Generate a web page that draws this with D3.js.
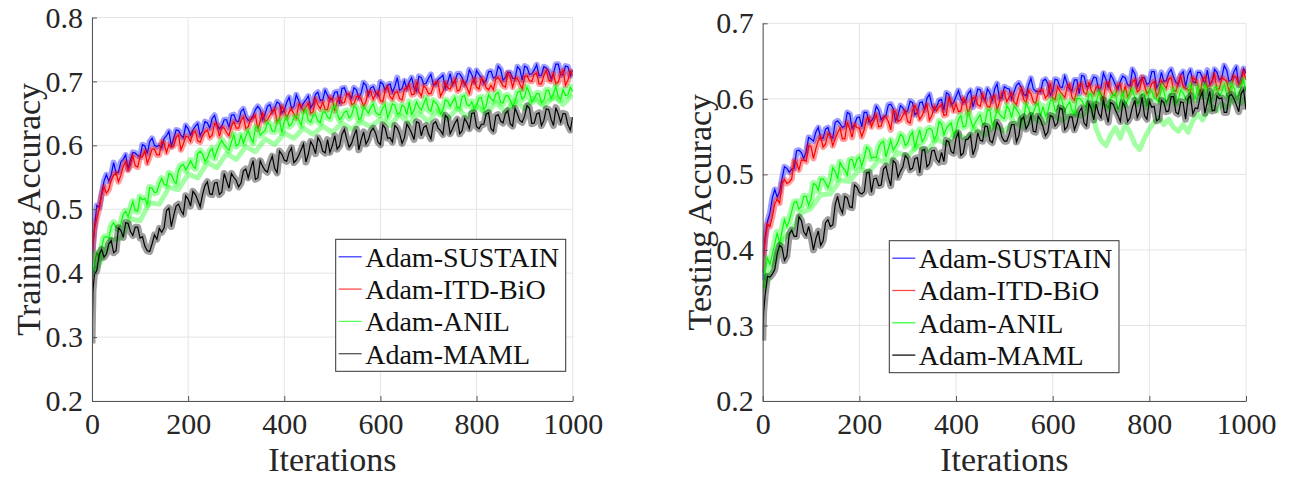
<!DOCTYPE html>
<html lang="en">
<head>
<meta charset="utf-8">
<title>Adam variants: training and testing accuracy</title>
<script src="https://d3js.org/d3.v7.min.js"></script>
<style>
    body { margin: 0; background: #fff; }
    svg text { font-family: 'Liberation Serif', 'Times New Roman', serif; fill: #262626; }
    .axis-label { font-size: 34px; }
    .legend-text { font-size: 28px; fill: #111; }
    .grid line { stroke: #e4e4e4; stroke-width: 1; }
    .axis path, .axis line { stroke: #555; }
</style>
</head>
<body>
<svg id="chart" width="1289" height="478"></svg>
<script>
// logged iterations: 0, 2, 5, then every 5
const iters = [0, 2, 5].concat(d3.range(10, 1001, 5));
const seriesNames = ["Adam-SUSTAIN", "Adam-ITD-BiO", "Adam-ANIL", "Adam-MAML"];
const xTicks = [0, 200, 400, 600, 800, 1000];
const trainTicks = [0.2, 0.3, 0.4, 0.5, 0.6, 0.7, 0.8];
const testTicks = [0.2, 0.3, 0.4, 0.5, 0.6, 0.7];

// ---- training accuracy (left) ----
const trainSustain = [0.400,0.440,0.470,
  0.506,0.503,0.524,0.544,0.554,0.544,0.554,0.573,0.557,0.558,0.574,0.578,0.585,0.563,0.577,0.589,0.588,0.584,0.582,0.601,
  0.599,0.587,0.606,0.611,0.600,0.598,0.600,0.596,0.611,0.615,0.622,0.599,0.611,0.624,0.623,0.616,0.612,0.631,0.626,0.616,
  0.624,0.630,0.634,0.615,0.623,0.637,0.635,0.627,0.642,0.647,0.632,0.626,0.630,0.640,0.640,0.628,0.647,0.648,0.638,0.637,
  0.653,0.657,0.645,0.639,0.640,0.646,0.656,0.661,0.656,0.640,0.649,0.661,0.664,0.652,0.658,0.668,0.665,0.651,0.655,0.667,
  0.675,0.658,0.661,0.679,0.670,0.659,0.666,0.671,0.677,0.659,0.665,0.680,0.683,0.670,0.671,0.686,0.678,0.671,0.672,0.683,
  0.684,0.665,0.689,0.690,0.680,0.679,0.674,0.690,0.687,0.674,0.682,0.698,0.694,0.679,0.690,0.692,0.683,0.678,0.699,0.696,
  0.686,0.694,0.696,0.683,0.692,0.706,0.686,0.689,0.701,0.688,0.699,0.706,0.690,0.685,0.708,0.706,0.696,0.697,0.705,0.711,
  0.695,0.695,0.703,0.706,0.710,0.689,0.699,0.712,0.695,0.700,0.712,0.712,0.706,0.695,0.701,0.718,0.711,0.699,0.717,0.711,
  0.706,0.697,0.702,0.715,0.716,0.705,0.707,0.724,0.719,0.702,0.706,0.714,0.714,0.705,0.704,0.723,0.719,0.702,0.724,0.722,
  0.711,0.712,0.718,0.726,0.709,0.710,0.723,0.721,0.716,0.704,0.713,0.727,0.727,0.710,0.711,0.724,0.723,0.709,0.718];
const trainItd = [0.415,0.445,0.468,
  0.486,0.500,0.522,0.535,0.525,0.531,0.546,0.553,0.557,0.543,0.553,0.567,0.574,0.561,0.569,0.584,0.568,0.566,0.583,0.582,
  0.591,0.572,0.582,0.594,0.594,0.585,0.585,0.606,0.603,0.589,0.601,0.597,0.599,0.613,0.616,0.593,0.602,0.614,0.613,0.606,
  0.620,0.622,0.607,0.605,0.615,0.621,0.624,0.612,0.616,0.634,0.632,0.614,0.628,0.627,0.620,0.615,0.630,0.637,0.627,0.627,
  0.639,0.644,0.626,0.629,0.641,0.642,0.647,0.625,0.638,0.650,0.637,0.640,0.647,0.652,0.657,0.637,0.642,0.661,0.654,0.643,
  0.652,0.657,0.649,0.643,0.664,0.662,0.653,0.660,0.666,0.650,0.652,0.673,0.663,0.657,0.668,0.656,0.656,0.675,0.672,0.654,
  0.669,0.675,0.666,0.667,0.679,0.681,0.664,0.665,0.676,0.677,0.672,0.661,0.669,0.684,0.684,0.672,0.680,0.684,0.670,0.668,
  0.686,0.691,0.676,0.672,0.682,0.684,0.673,0.671,0.688,0.689,0.694,0.679,0.680,0.699,0.684,0.677,0.693,0.689,0.681,0.681,
  0.692,0.699,0.698,0.677,0.684,0.698,0.690,0.688,0.696,0.703,0.685,0.687,0.701,0.697,0.691,0.681,0.697,0.704,0.691,0.688,
  0.705,0.701,0.690,0.687,0.694,0.687,0.704,0.706,0.700,0.693,0.691,0.713,0.707,0.691,0.704,0.705,0.696,0.688,0.707,0.709,
  0.701,0.700,0.711,0.713,0.696,0.696,0.709,0.717,0.702,0.700,0.712,0.696,0.699,0.712,0.717,0.694,0.702,0.716,0.709];
const trainAnil = [0.400,0.405,0.416,
  0.432,0.423,0.439,0.456,0.457,0.455,0.473,0.479,0.472,0.469,0.477,0.492,0.497,0.488,0.500,0.512,0.498,0.497,0.519,0.515,
  0.517,0.507,0.534,0.533,0.526,0.527,0.540,0.548,0.539,0.537,0.556,0.554,0.545,0.540,0.561,0.568,0.570,0.561,0.568,0.576,
  0.568,0.564,0.587,0.591,0.586,0.575,0.580,0.591,0.595,0.580,0.592,0.601,0.608,0.601,0.596,0.592,0.605,0.617,0.599,0.602,
  0.616,0.603,0.615,0.623,0.612,0.604,0.628,0.627,0.616,0.620,0.623,0.636,0.633,0.622,0.622,0.636,0.640,0.620,0.638,0.644,
  0.630,0.633,0.643,0.646,0.640,0.631,0.651,0.655,0.639,0.636,0.647,0.648,0.638,0.635,0.652,0.652,0.644,0.642,0.657,0.662,
  0.650,0.640,0.644,0.652,0.654,0.643,0.647,0.661,0.659,0.640,0.643,0.660,0.656,0.650,0.659,0.665,0.652,0.648,0.648,0.659,
  0.664,0.643,0.653,0.665,0.663,0.649,0.650,0.663,0.660,0.648,0.668,0.648,0.655,0.668,0.660,0.655,0.665,0.674,0.656,0.653,
  0.670,0.667,0.661,0.649,0.655,0.671,0.669,0.661,0.668,0.675,0.659,0.658,0.676,0.678,0.663,0.662,0.668,0.657,0.663,0.674,
  0.675,0.656,0.662,0.679,0.673,0.669,0.680,0.683,0.667,0.666,0.677,0.678,0.671,0.662,0.668,0.683,0.685,0.672,0.676,0.691,
  0.682,0.668,0.673,0.681,0.681,0.667,0.670,0.686,0.686,0.673,0.681,0.692,0.676,0.672,0.687,0.678,0.679,0.691,0.684];
const trainMaml = [0.290,0.372,0.398,
  0.404,0.430,0.437,0.425,0.430,0.446,0.451,0.432,0.435,0.471,0.467,0.456,0.479,0.478,0.465,0.459,0.472,0.472,0.455,0.457,
  0.442,0.435,0.434,0.446,0.460,0.453,0.470,0.464,0.471,0.498,0.502,0.473,0.490,0.505,0.508,0.498,0.492,0.521,0.516,0.505,
  0.528,0.523,0.514,0.504,0.523,0.537,0.543,0.524,0.523,0.541,0.542,0.523,0.527,0.556,0.544,0.533,0.556,0.550,0.545,0.535,
  0.541,0.560,0.563,0.549,0.563,0.576,0.547,0.549,0.576,0.567,0.561,0.558,0.573,0.583,0.564,0.557,0.591,0.586,0.577,0.575,
  0.589,0.596,0.573,0.577,0.584,0.593,0.602,0.574,0.586,0.606,0.599,0.587,0.612,0.605,0.591,0.588,0.609,0.589,0.600,0.615,
  0.594,0.599,0.617,0.625,0.610,0.597,0.603,0.615,0.625,0.593,0.609,0.621,0.602,0.609,0.622,0.627,0.619,0.605,0.601,0.632,
  0.627,0.611,0.612,0.605,0.631,0.627,0.618,0.603,0.612,0.633,0.627,0.619,0.609,0.637,0.635,0.615,0.628,0.631,0.618,0.610,
  0.634,0.637,0.627,0.623,0.617,0.647,0.643,0.618,0.626,0.635,0.641,0.618,0.623,0.642,0.636,0.626,0.650,0.651,0.629,0.626,
  0.633,0.633,0.649,0.651,0.626,0.622,0.646,0.648,0.638,0.635,0.650,0.654,0.634,0.630,0.658,0.649,0.639,0.636,0.646,0.662,
  0.658,0.634,0.635,0.649,0.651,0.631,0.639,0.657,0.656,0.641,0.631,0.659,0.649,0.636,0.650,0.649,0.632,0.624,0.644];
// pale lower spread of the ANIL training runs
const anilTrainLowIters = d3.range(0, 1001, 20);
const anilTrainLow = [0.395,0.421,0.452,0.455,0.485,0.482,0.510,0.508,0.534,0.531,
  0.555,0.549,0.573,0.565,0.587,0.578,0.598,0.590,0.610,0.601,
  0.619,0.611,0.627,0.617,0.630,0.620,0.635,0.625,0.637,0.629,
  0.641,0.631,0.648,0.634,0.650,0.637,0.656,0.641,0.658,0.644,
  0.662,0.649,0.667,0.652,0.670,0.657,0.674,0.661,0.677,0.664,0.679];

// ---- testing accuracy (right) ----
const testSustain = [0.360,0.395,0.418,
  0.438,0.449,0.469,0.480,0.470,0.477,0.494,0.510,0.508,0.503,0.507,0.508,0.531,0.532,0.529,0.521,0.530,0.549,0.547,0.544,
  0.556,0.562,0.548,0.548,0.560,0.562,0.551,0.548,0.569,0.571,0.567,0.562,0.564,0.582,0.580,0.561,0.566,0.575,0.576,0.563,
  0.582,0.582,0.569,0.571,0.576,0.590,0.585,0.572,0.576,0.578,0.592,0.593,0.587,0.571,0.578,0.591,0.588,0.582,0.584,0.597,
  0.595,0.579,0.582,0.595,0.596,0.585,0.601,0.606,0.591,0.585,0.590,0.598,0.599,0.585,0.608,0.606,0.592,0.595,0.603,0.611,
  0.600,0.595,0.597,0.607,0.611,0.589,0.600,0.613,0.612,0.602,0.598,0.613,0.608,0.597,0.613,0.620,0.600,0.601,0.616,0.614,
  0.613,0.600,0.609,0.618,0.621,0.615,0.606,0.604,0.618,0.627,0.613,0.610,0.610,0.609,0.624,0.626,0.620,0.605,0.610,0.626,
  0.625,0.616,0.615,0.630,0.620,0.613,0.611,0.625,0.625,0.607,0.631,0.630,0.616,0.617,0.620,0.629,0.628,0.612,0.615,0.634,
  0.626,0.615,0.632,0.626,0.618,0.613,0.623,0.630,0.628,0.619,0.617,0.639,0.633,0.616,0.623,0.628,0.628,0.619,0.621,0.636,
  0.636,0.615,0.620,0.635,0.623,0.624,0.634,0.639,0.629,0.622,0.619,0.632,0.636,0.616,0.632,0.638,0.623,0.621,0.635,0.635,
  0.628,0.620,0.638,0.619,0.623,0.639,0.635,0.625,0.628,0.644,0.638,0.623,0.625,0.636,0.642,0.618,0.628,0.640,0.634];
const testItd = [0.370,0.392,0.412,
  0.434,0.431,0.444,0.461,0.467,0.462,0.488,0.493,0.488,0.490,0.494,0.518,0.515,0.506,0.519,0.519,0.517,0.538,0.537,0.521,
  0.534,0.545,0.550,0.536,0.540,0.554,0.551,0.538,0.547,0.555,0.561,0.547,0.547,0.569,0.560,0.549,0.566,0.562,0.561,0.550,
  0.559,0.573,0.575,0.563,0.571,0.579,0.563,0.564,0.575,0.576,0.570,0.559,0.584,0.583,0.570,0.572,0.578,0.584,0.570,0.568,
  0.585,0.591,0.583,0.573,0.578,0.586,0.592,0.572,0.578,0.590,0.584,0.589,0.592,0.578,0.579,0.601,0.596,0.584,0.593,0.583,
  0.584,0.601,0.596,0.580,0.592,0.601,0.602,0.592,0.590,0.606,0.598,0.590,0.589,0.602,0.604,0.585,0.596,0.608,0.609,0.596,
  0.602,0.608,0.596,0.592,0.606,0.614,0.599,0.595,0.611,0.607,0.596,0.594,0.609,0.612,0.611,0.601,0.605,0.621,0.601,0.599,
  0.616,0.610,0.606,0.602,0.615,0.619,0.602,0.598,0.612,0.618,0.620,0.608,0.606,0.622,0.611,0.606,0.616,0.616,0.606,0.599,
  0.620,0.622,0.611,0.605,0.605,0.619,0.619,0.604,0.617,0.603,0.608,0.623,0.625,0.609,0.612,0.629,0.617,0.607,0.611,0.620,
  0.623,0.603,0.609,0.624,0.619,0.614,0.626,0.628,0.612,0.610,0.622,0.630,0.616,0.614,0.612,0.609,0.628,0.625,0.619,0.607,
  0.625,0.629,0.615,0.618,0.624,0.632,0.612,0.614,0.628,0.626,0.623,0.610,0.618,0.630,0.628,0.618,0.621,0.637,0.625];
const testAnil = [0.350,0.360,0.371,
  0.389,0.381,0.394,0.408,0.423,0.408,0.425,0.440,0.431,0.439,0.451,0.463,0.464,0.454,0.458,0.471,0.471,0.459,0.468,0.488,
  0.486,0.479,0.494,0.494,0.489,0.482,0.491,0.509,0.504,0.494,0.516,0.510,0.506,0.499,0.519,0.520,0.509,0.520,0.523,0.511,
  0.522,0.536,0.533,0.521,0.523,0.522,0.536,0.542,0.544,0.523,0.534,0.545,0.532,0.537,0.543,0.553,0.550,0.538,0.541,0.551,
  0.556,0.535,0.548,0.559,0.543,0.548,0.559,0.561,0.559,0.546,0.552,0.570,0.567,0.552,0.561,0.565,0.568,0.553,0.559,0.573,
  0.578,0.563,0.564,0.583,0.573,0.562,0.569,0.574,0.579,0.566,0.568,0.585,0.585,0.564,0.573,0.585,0.580,0.576,0.574,0.591,
  0.586,0.575,0.590,0.586,0.581,0.570,0.575,0.593,0.588,0.577,0.582,0.591,0.594,0.577,0.590,0.577,0.583,0.597,0.599,0.584,
  0.586,0.604,0.596,0.583,0.591,0.596,0.585,0.579,0.600,0.601,0.598,0.592,0.589,0.606,0.606,0.588,0.594,0.609,0.603,0.593,
  0.592,0.588,0.601,0.605,0.607,0.586,0.596,0.609,0.591,0.598,0.608,0.612,0.602,0.594,0.597,0.607,0.606,0.590,0.611,0.610,
  0.601,0.599,0.596,0.617,0.610,0.595,0.601,0.607,0.613,0.594,0.599,0.612,0.608,0.600,0.597,0.618,0.612,0.599,0.617,0.604,
  0.604,0.618,0.611,0.595,0.602,0.615,0.615,0.604,0.609,0.619,0.605,0.600,0.620,0.615,0.603,0.604,0.616,0.625,0.610];
const testMaml = [0.280,0.318,0.340,
  0.365,0.364,0.368,0.374,0.395,0.406,0.403,0.386,0.392,0.421,0.426,0.418,0.418,0.444,0.439,0.424,0.419,0.431,0.418,0.400,
  0.415,0.425,0.406,0.412,0.436,0.440,0.431,0.433,0.460,0.471,0.456,0.449,0.471,0.469,0.457,0.456,0.486,0.483,0.476,0.474,
  0.477,0.502,0.503,0.476,0.494,0.495,0.485,0.486,0.507,0.511,0.496,0.485,0.518,0.515,0.496,0.504,0.510,0.525,0.521,0.506,
  0.508,0.521,0.522,0.502,0.532,0.533,0.510,0.514,0.531,0.532,0.520,0.516,0.529,0.517,0.545,0.543,0.530,0.528,0.548,0.555,
  0.525,0.528,0.546,0.547,0.552,0.526,0.535,0.555,0.545,0.544,0.564,0.563,0.545,0.542,0.554,0.569,0.564,0.549,0.544,0.544,
  0.553,0.566,0.566,0.543,0.551,0.573,0.576,0.560,0.566,0.578,0.557,0.556,0.577,0.572,0.563,0.551,0.556,0.578,0.576,0.564,
  0.568,0.588,0.586,0.559,0.563,0.576,0.576,0.559,0.568,0.583,0.588,0.568,0.564,0.594,0.587,0.572,0.593,0.581,0.575,0.599,
  0.582,0.569,0.595,0.593,0.585,0.578,0.570,0.595,0.589,0.570,0.575,0.589,0.598,0.575,0.583,0.602,0.578,0.573,0.597,0.589,
  0.590,0.571,0.573,0.598,0.595,0.583,0.584,0.603,0.603,0.582,0.580,0.596,0.595,0.573,0.600,0.604,0.580,0.588,0.587,0.602,
  0.609,0.581,0.596,0.610,0.584,0.585,0.604,0.600,0.601,0.582,0.582,0.604,0.606,0.600,0.592,0.583,0.607,0.612,0.586];
// pale lower spread of the ANIL test runs (with the dips after ~680 iterations)
const anilTestLowIters = d3.range(0, 661, 20).concat(d3.range(680, 1001, 10));
const anilTestLow = [0.345,0.376,0.412,0.426,0.449,0.455,0.473,0.474,0.492,0.491,
  0.507,0.503,0.519,0.515,0.529,0.524,0.538,0.531,0.547,0.540,
  0.555,0.547,0.560,0.552,0.565,0.557,0.570,0.562,0.575,0.567,
  0.579,0.571,0.583,0.577,
  0.590,0.560,0.545,0.538,0.552,0.562,0.548,0.566,0.556,0.540,0.533,0.548,0.560,0.569,0.575,0.566,0.573,
  0.562,0.557,0.566,0.556,0.571,0.580,0.572,0.583,0.590,0.584,0.594,0.588,0.596,0.600,0.594,0.602];

const lineColors = ["#0000ff", "#ff0000", "#00ff00", "#000000"];
const bandColors = ["rgba(0,0,255,0.38)", "rgba(255,0,0,0.38)", "rgba(0,255,0,0.36)", "rgba(0,0,0,0.38)"];
const bandWidths = [6, 6, 7, 7];

const svg = d3.select("#chart");
const serif = "'Liberation Serif', 'Times New Roman', serif";

function drawPanel(p) {
    const x = d3.scaleLinear().domain([0, 1000]).range([p.left, p.right]);
    const y = d3.scaleLinear().domain([0.2, p.yMax]).range([p.bottom, p.top]);
    const g = svg.append("g");

    // grid
    const grid = g.append("g").attr("class", "grid");
    grid.selectAll(".gx").data(xTicks).join("line")
        .attr("x1", d => x(d)).attr("x2", d => x(d))
        .attr("y1", p.top).attr("y2", p.bottom);
    grid.selectAll(".gy").data(p.yTicks).join("line")
        .attr("x1", p.left).attr("x2", p.right)
        .attr("y1", d => y(d)).attr("y2", d => y(d));

    // series
    g.append("clipPath").attr("id", p.id + "-clip")
        .append("rect")
        .attr("x", p.left).attr("y", p.top)
        .attr("width", p.right - p.left).attr("height", p.bottom - p.top);
    const plot = g.append("g").attr("clip-path", `url(#${p.id}-clip)`);
    const line = d3.line().x((d, i) => x(iters[i])).y(d => y(d));

    p.series.forEach((vals, k) => {
        if (k === 2) {
            const lowLine = d3.line().x((d, i) => x(p.anilLowIters[i])).y(d => y(d));
            plot.append("path")
                .attr("d", lowLine(p.anilLow))
                .attr("fill", "none")
                .attr("stroke", bandColors[k])
                .attr("stroke-width", 5)
                .attr("stroke-linejoin", "round");
        }
        plot.append("path")
            .attr("d", line(vals))
            .attr("fill", "none")
            .attr("stroke", bandColors[k])
            .attr("stroke-width", bandWidths[k])
            .attr("stroke-linejoin", "round");
        plot.append("path")
            .attr("d", line(vals))
            .attr("fill", "none")
            .attr("stroke", lineColors[k])
            .attr("stroke-width", 1.2);
    });

    // axes
    const xAxis = g.append("g").attr("class", "axis")
        .attr("transform", `translate(0,${p.bottom})`)
        .call(d3.axisBottom(x).tickValues(xTicks).tickSize(-5).tickSizeOuter(0).tickPadding(12).tickFormat(d3.format("d")));
    const yAxis = g.append("g").attr("class", "axis")
        .attr("transform", `translate(${p.left},0)`)
        .call(d3.axisLeft(y).tickValues(p.yTicks).tickSize(-5).tickSizeOuter(0).tickPadding(9).tickFormat(d3.format(".1f")));
    [xAxis, yAxis].forEach(a => {
        a.attr("font-family", serif).attr("font-size", 30);
        a.selectAll("text")
            .style("font-family", serif)
            .style("font-size", "30px")
            .attr("fill", "#262626");
    });

    g.append("text").attr("class", "axis-label")
        .attr("x", (p.left + p.right) / 2).attr("y", p.bottom + 70)
        .attr("text-anchor", "middle")
        .text("Iterations");
    g.append("text").attr("class", "axis-label")
        .attr("transform", `translate(${p.left - 52},${(p.top + p.bottom) / 2}) rotate(-90)`)
        .attr("text-anchor", "middle")
        .text(p.yLabel);

    // legend
    const lg = g.append("g").attr("transform", `translate(${p.legendX},${p.legendY})`);
    lg.append("rect")
        .attr("width", p.legendW).attr("height", 132)
        .attr("fill", "#fff").attr("stroke", "#333").attr("stroke-width", 1);
    seriesNames.forEach((name, k) => {
        const cy = 17.5 + k * 32.3;
        lg.append("line")
            .attr("x1", 3).attr("x2", 26).attr("y1", cy).attr("y2", cy)
            .attr("stroke", p.legendColors[k]).attr("stroke-width", 1.3);
        lg.append("text").attr("class", "legend-text")
            .attr("x", 29.5).attr("y", cy + 10)
            .text(name);
    });
}

drawPanel({
    id: "train", left: 92, right: 572.7, top: 17.5, bottom: 401,
    yMax: 0.8, yTicks: trainTicks, yLabel: "Training Accuracy",
    series: [trainSustain, trainItd, trainAnil, trainMaml],
    anilLowIters: anilTrainLowIters, anilLow: anilTrainLow,
    legendX: 335.7, legendY: 239.3, legendW: 230,
    legendColors: ["#3a3aff", "#ff4a4a", "#5aff5a", "#555555"]
});
drawPanel({
    id: "test", left: 762.7, right: 1246, top: 23.3, bottom: 401,
    yMax: 0.7, yTicks: testTicks, yLabel: "Testing Accuracy",
    series: [testSustain, testItd, testAnil, testMaml],
    anilLowIters: anilTestLowIters, anilLow: anilTestLow,
    legendX: 889.3, legendY: 240.7, legendW: 229.7,
    legendColors: ["#3a3aff", "#ff4a4a", "#3aff3a", "#111111"]
});
</script>
</body>
</html>
